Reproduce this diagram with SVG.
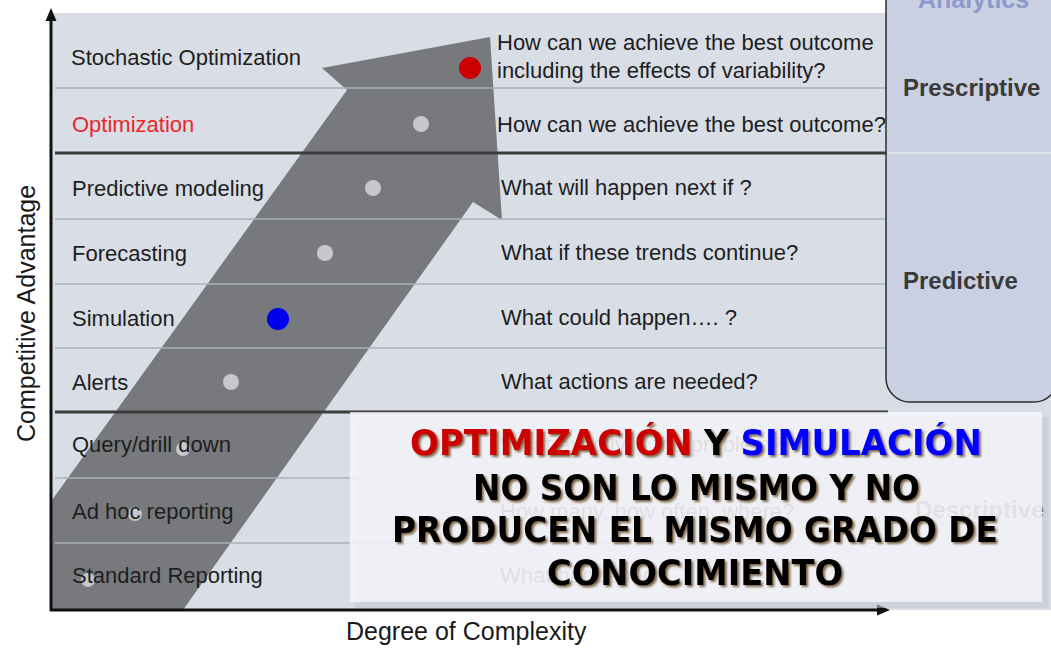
<svg xmlns="http://www.w3.org/2000/svg" width="1051" height="648" viewBox="0 0 1051 648">
<defs>
<style>
.lbl{font-family:"Liberation Sans",Arial,sans-serif;font-size:22px;fill:#1e1e1e}
.q{font-family:"Liberation Sans",Arial,sans-serif;font-size:22px;fill:#1e1e1e}
.thin{stroke:#a9b0ba;stroke-width:1.5}
.thick{stroke:#3d3d3d;stroke-width:3}
.dot{fill:#c6c8cc}
.cat{font-family:"Liberation Sans",Arial,sans-serif;font-size:24px;font-weight:bold;fill:#3a3a3a}
.axis{stroke:#111;stroke-width:3;fill:none}
.axlbl{font-family:"Liberation Sans",Arial,sans-serif;font-size:25px;fill:#1a1a1a}
.big{font-family:"DejaVu Sans",Verdana,sans-serif;font-size:35px;font-weight:bold;fill:#000}
</style>
<filter id="sh" x="-5%" y="-20%" width="110%" height="150%">
<feDropShadow dx="2" dy="2" stdDeviation="1" flood-color="#5a3a10" flood-opacity="0.75"/>
</filter>
</defs>
<rect width="1051" height="648" fill="#ffffff"/>
<rect x="52" y="13" width="999" height="597" fill="#d8dde6"/>
<g id="growth-arrow">
<polygon points="52,500 347,90 322,68 490,37 502,220 473,202 183,610 52,610" fill="#77797d"/>
</g>
<g id="grid">
<line class="thin" x1="55" y1="88" x2="888" y2="88"/>
<line class="thin" x1="55" y1="219" x2="888" y2="219"/>
<line class="thin" x1="55" y1="284" x2="888" y2="284"/>
<line class="thin" x1="55" y1="348" x2="888" y2="348"/>
<line class="thin" x1="55" y1="478" x2="888" y2="478"/>
<line class="thin" x1="55" y1="543" x2="888" y2="543"/>
<line class="thick" x1="55" y1="153" x2="888" y2="153"/>
<line class="thick" x1="55" y1="412" x2="888" y2="412"/>
</g>
<g id="row-stochastic">
<circle cx="470" cy="68" r="11" fill="#cc0000"/>
<text class="lbl" x="71" y="65">Stochastic Optimization</text>
<text class="q" x="497" y="50">How can we achieve the best outcome</text>
<text class="q" x="497" y="78">including the effects of variability?</text>
</g>
<g id="row-optimization">
<circle class="dot" cx="421" cy="124" r="8"/>
<text class="lbl" x="72" y="132" style="fill:#e8282a">Optimization</text>
<text class="q" x="497" y="132">How can we achieve the best outcome?</text>
</g>
<g id="row-predictive">
<circle class="dot" cx="373" cy="188" r="8"/>
<text class="lbl" x="72" y="196">Predictive modeling</text>
<text class="q" x="501" y="195">What will happen next if ?</text>
</g>
<g id="row-forecasting">
<circle class="dot" cx="325" cy="253" r="8"/>
<text class="lbl" x="72" y="261">Forecasting</text>
<text class="q" x="501" y="260">What if these trends continue?</text>
</g>
<g id="row-simulation">
<circle cx="278" cy="319" r="11" fill="#0000ee"/>
<text class="lbl" x="72" y="326">Simulation</text>
<text class="q" x="501" y="325">What could happen…. ?</text>
</g>
<g id="row-alerts">
<circle class="dot" cx="231" cy="382" r="8"/>
<text class="lbl" x="72" y="390">Alerts</text>
<text class="q" x="501" y="389">What actions are needed?</text>
</g>
<g id="row-query">
<circle class="dot" cx="183" cy="449" r="7"/>
<text class="lbl" x="72" y="452">Query/drill down</text>
<text class="q" x="500" y="452">What exactly is the problem?</text>
</g>
<g id="row-adhoc">
<circle class="dot" cx="135" cy="514" r="7"/>
<text class="lbl" x="72" y="519">Ad hoc reporting</text>
<text class="q" x="500" y="519">How many, how often, where?</text>
</g>
<g id="row-standard">
<circle class="dot" cx="88" cy="580" r="7"/>
<text class="lbl" x="72" y="583">Standard Reporting</text>
<text class="q" x="500" y="583">What happened?</text>
</g>
<g id="analytics-panel">
<rect x="886" y="-30" width="172" height="432" rx="24" ry="24" fill="#c9d0e1" stroke="#2e2e2e" stroke-width="1.5"/>
<line x1="888" y1="153" x2="1051" y2="153" stroke="#e0e4ec" stroke-width="2"/>
<text x="918" y="8" style="font-family:'Liberation Sans',Arial,sans-serif;font-size:25px;font-weight:bold;fill:#8d9acb">Analytics</text>
<text class="cat" x="903" y="96">Prescriptive</text>
<text class="cat" x="903" y="289">Predictive</text>
</g>
<g id="descriptive-label">
<text class="cat" x="915" y="518">Descriptive</text>
</g>
<g id="connectors">
<line class="axis" x1="51" y1="611" x2="51" y2="18"/>
<polygon points="51,8 45.5,21 56.5,21" fill="#111"/>
<line class="axis" x1="50" y1="610" x2="880" y2="610"/>
<polygon points="890,610 877,604.5 877,615.5" fill="#111"/>
</g>
<g id="axis-labels">
<text class="axlbl" x="346" y="640">Degree of Complexity</text>
<text class="axlbl" transform="translate(35,442) rotate(-90)" x="0" y="0">Competitive Advantage</text>
</g>
<g id="callout">
<rect x="355" y="417" width="694" height="191" fill="#c4c8d0" opacity="0.55"/>
<rect x="350" y="412" width="692" height="190" fill="#f7f8fb" opacity="0.8"/>
<g filter="url(#sh)">
<text class="big" x="410" y="455" textLength="572" lengthAdjust="spacingAndGlyphs"><tspan fill="#cc0000">OPTIMIZACIÓN</tspan><tspan fill="#000"> Y </tspan><tspan fill="#0000ff">SIMULACIÓN</tspan></text>
<text class="big" x="473" y="500" textLength="447" lengthAdjust="spacingAndGlyphs">NO SON LO MISMO Y NO</text>
<text class="big" x="392" y="542" textLength="606" lengthAdjust="spacingAndGlyphs">PRODUCEN EL MISMO GRADO DE</text>
<text class="big" x="547" y="585" textLength="296" lengthAdjust="spacingAndGlyphs">CONOCIMIENTO</text>
</g>
</g>
</svg>
